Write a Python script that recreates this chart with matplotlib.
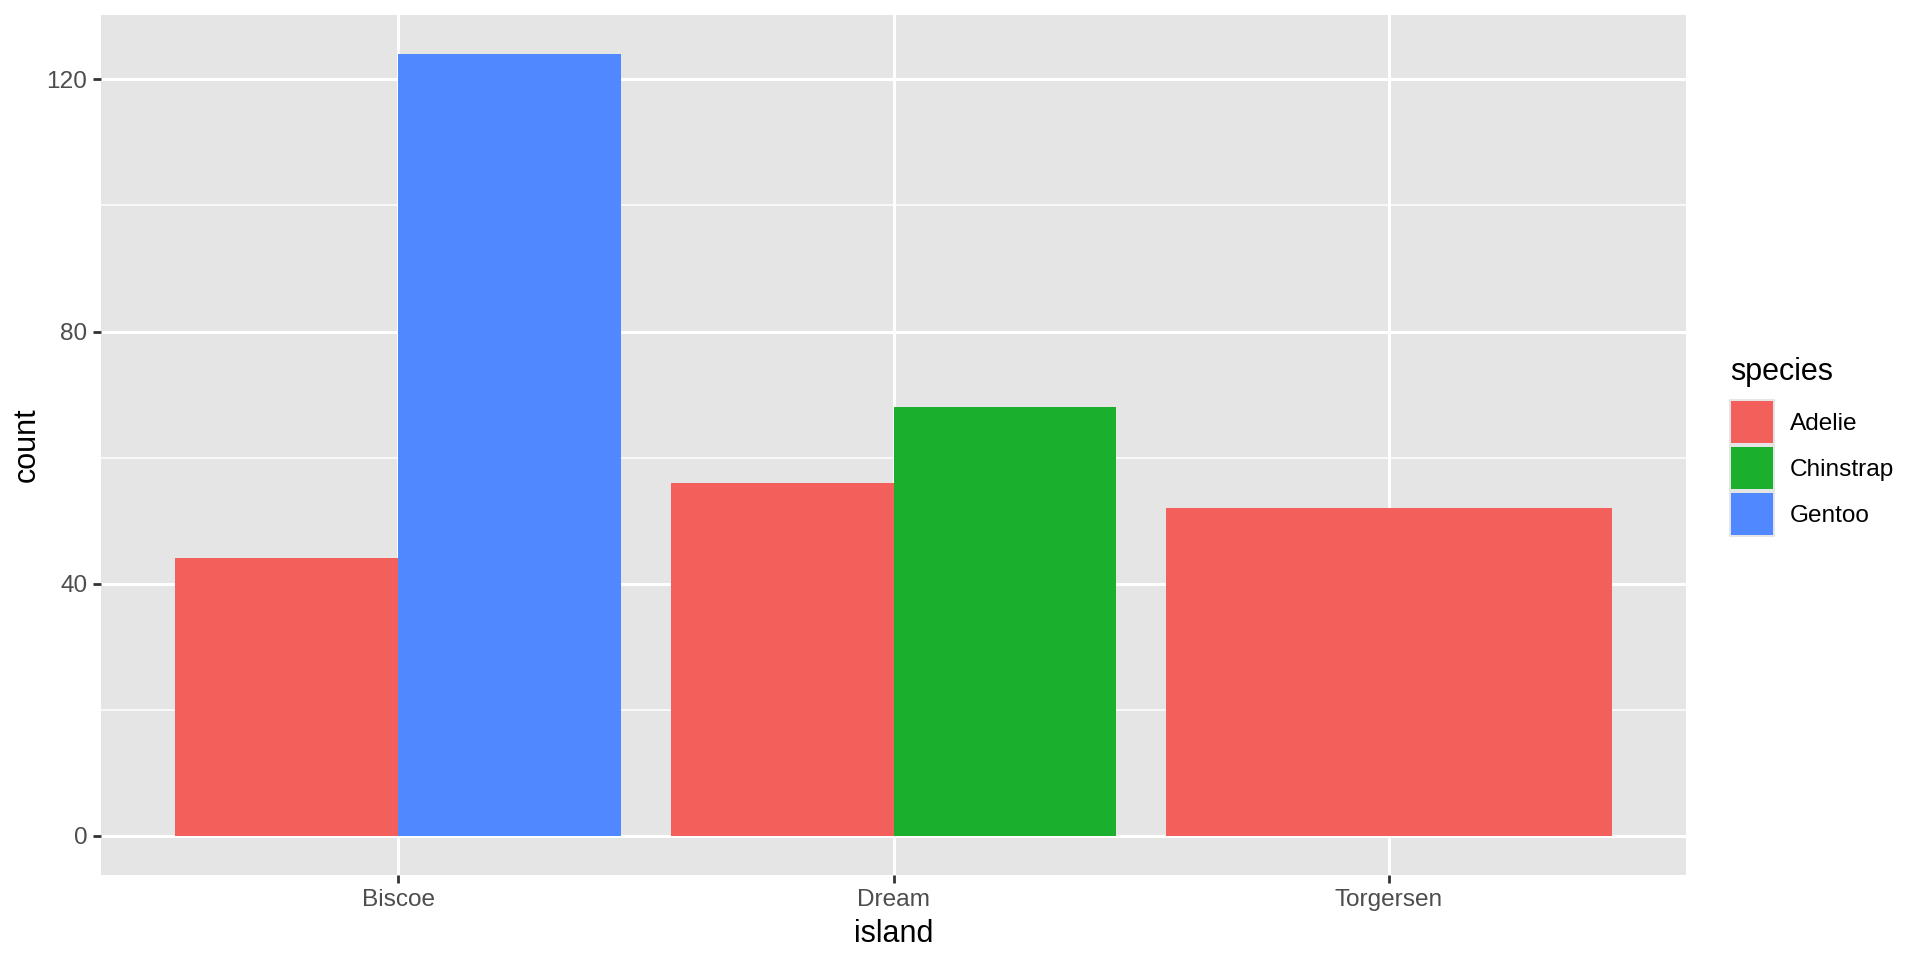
import matplotlib
matplotlib.use("Agg")
import matplotlib.pyplot as plt
from matplotlib.patches import Rectangle
import numpy as np

islands = ["Biscoe", "Dream", "Torgersen"]
species = ["Adelie", "Chinstrap", "Gentoo"]
colors = ["#F3605B", "#1AB02E", "#5088FF"]
# counts[island][species]; absent species omitted
counts = {
    "Biscoe": {"Adelie": 44, "Gentoo": 124},
    "Dream": {"Adelie": 56, "Chinstrap": 68},
    "Torgersen": {"Adelie": 52},
}
yticks = [0, 40, 80, 120]
yminor = [20, 60, 100]

plt.rcParams['font.family'] = ['Liberation Sans', 'DejaVu Sans']
W, H, DPI = 1920, 960, 200
fig = plt.figure(figsize=(W / DPI, H / DPI), dpi=DPI)

L, R, T, B = 101, 1686, 15, 875
ax = fig.add_axes([L / W, (H - B) / H, (R - L) / W, (B - T) / H])
ax.set_facecolor("#E5E5E5")
for s in ax.spines.values():
    s.set_visible(False)

ymax = max(v for d in counts.values() for v in d.values())
ax.set_ylim(-0.05 * ymax, 1.05 * ymax)
ax.set_xlim(0.4, 3.6)

for y in yminor:
    ax.axhline(y, color="white", lw=0.55, zorder=0)
for y in yticks:
    ax.axhline(y, color="white", lw=1.1, zorder=0)
for i in range(len(islands)):
    ax.axvline(i + 1, color="white", lw=1.1, zorder=0)

total_w = 0.9
for i, isl in enumerate(islands):
    present = [s for s in species if s in counts[isl]]
    n = len(present)
    w = total_w / n
    for j, s in enumerate(present):
        x = i + 1 - total_w / 2 + w * (j + 0.5)
        ax.bar(x, counts[isl][s], width=w, color=colors[species.index(s)],
               linewidth=0, zorder=2)

ax.set_xticks(range(1, len(islands) + 1))
ax.set_xticklabels(islands)
ax.set_yticks(yticks)
ax.set_yticklabels([str(v) for v in yticks])
ax.tick_params(axis="both", length=2.75, width=1.0, color="#333333",
               labelcolor="#4D4D4D", labelsize=8.8, pad=2.2)
ax.set_xlabel("island", fontsize=11, color="black", labelpad=3)
ax.set_ylabel("count", fontsize=11, color="black", ha="center", va="center")
ax.yaxis.set_label_coords((27 - L) / (R - L), 0.5)

# Legend (manual, ggplot-style)
def fx(px):
    return px / W
def fy(py):
    return 1 - py / H

fig.text(fx(1730), fy(380), "species", fontsize=11, color="black",
         ha="left", va="baseline")
key_top = 399
key_h = 46
key_w = 46
for k, s in enumerate(species):
    y0 = key_top + k * key_h
    fig.patches.append(Rectangle((fx(1729), fy(y0 + key_h)), key_w / W, key_h / H,
                                 transform=fig.transFigure, facecolor="#E5E5E5",
                                 edgecolor="none"))
    fig.patches.append(Rectangle((fx(1731), fy(y0 + key_h - 2)), (key_w - 4) / W,
                                 (key_h - 4) / H, transform=fig.transFigure,
                                 facecolor=colors[k], edgecolor="none"))
    fig.text(fx(1790), fy(y0 + key_h / 2 + 2), s, fontsize=8.8, color="black",
             ha="left", va="center")

fig.savefig("out.png", dpi=DPI)
